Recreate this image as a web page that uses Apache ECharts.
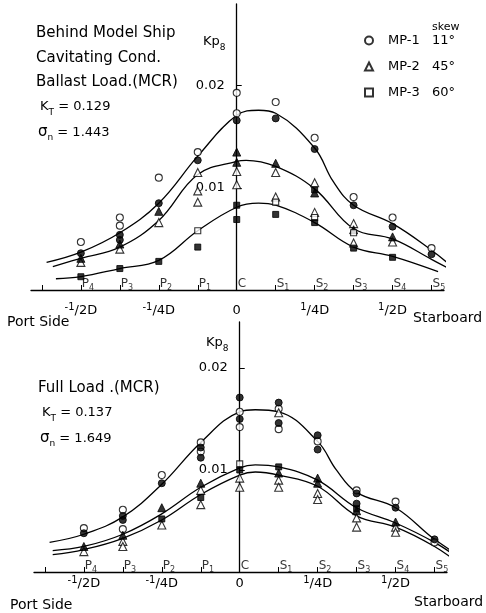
<!DOCTYPE html>
<html>
<head>
<meta charset="utf-8">
<script src="https://cdn.jsdelivr.net/npm/echarts@6/dist/echarts.min.js"></script>
<style>
  html, body { margin: 0; padding: 0; background: #fff; }
  #chart { width: 486px; height: 613px; }
</style>
</head>
<body>
<div id="chart"></div>
<script>
// Blade stations along the propeller plane (fractions of diameter D)
const stationNames = ['P4', 'P3', 'P2', 'P1', 'C', 'S1', 'S2', 'S3', 'S4', 'S5'];
const stationX = [-0.5, -0.375, -0.25, -0.125, 0, 0.125, 0.25, 0.375, 0.5, 0.625];
const tickX = [-0.625, -0.5, -0.375, -0.25, -0.125, 0, 0.125, 0.25, 0.375, 0.5, 0.625];
const distValues = [-0.5, -0.25, 0, 0.25, 0.5];
const distLabels = ['-1/2D', '-1/4D', '0', '1/4D', '1/2D'];
const kpTicks = [0.01, 0.02];

const propellers = ['MP-1', 'MP-2', 'MP-3'];
const skewAngles = ['11°', '45°', '60°'];

// Condition notes
const ballastNotes = ['Behind Model Ship', 'Cavitating Cond.', 'Ballast Load.(MCR)'];
const ballastKT = '0.129';
const ballastSigma = '1.443';
const fullNotes = ['Full Load .(MCR)'];
const fullKT = '0.137';
const fullSigma = '1.649';

// Ballast load – measured Kp8 per station
const ballastMP1Open = [['P4',0.0047],['P3',0.0071],['P3',0.0063],['P2',0.0110],['P1',0.0135],['C',0.0193],['C',0.0173],['S1',0.0184],['S2',0.0149],['S3',0.0091],['S4',0.0071],['S5',0.0041]];
const ballastMP1Filled = [['P4',0.0036],['P3',0.0054],['P3',0.0049],['P2',0.0085],['P1',0.0127],['C',0.0166],['S1',0.0168],['S2',0.0138],['S3',0.0083],['S4',0.0062],['S5',0.0035]];
const ballastMP2Open = [['P4',0.0027],['P3',0.0040],['P2',0.0066],['P1',0.0115],['P1',0.0097],['P1',0.0086],['C',0.0116],['C',0.0103],['S1',0.0115],['S1',0.0091],['S2',0.0105],['S2',0.0076],['S3',0.0065],['S3',0.0046],['S4',0.0047]];
const ballastMP2Filled = [['P4',0.0031],['P3',0.0045],['P2',0.0077],['C',0.0135],['C',0.0125],['S1',0.0124],['S2',0.0095],['S3',0.0059],['S4',0.0052]];
const ballastMP3Open = [['P1',0.0058],['S1',0.0086],['S2',0.0071],['S3',0.0056]];
const ballastMP3Filled = [['P4',0.0013],['P3',0.0021],['P2',0.0028],['P1',0.0042],['C',0.0083],['C',0.0069],['S1',0.0074],['S2',0.0098],['S2',0.0066],['S3',0.0041],['S4',0.0032]];

// Ballast load – faired curves
const ballastCurveMP1 = [[-0.61,0.0027],[-0.5,0.0037],[-0.375,0.0056],[-0.25,0.0085],[-0.125,0.0131],[0,0.0171],[0.07,0.0176],[0.125,0.0173],[0.25,0.0139],[0.31,0.0106],[0.375,0.0083],[0.5,0.0065],[0.625,0.0039],[0.694,0.0022]];
const ballastCurveMP2 = [[-0.59,0.0023],[-0.5,0.0031],[-0.375,0.0042],[-0.25,0.0068],[-0.125,0.0113],[0,0.0126],[0.03,0.0127],[0.125,0.0121],[0.25,0.0099],[0.375,0.0060],[0.5,0.0050],[0.625,0.0030],[0.68,0.0021]];
const ballastCurveMP3 = [[-0.58,0.0011],[-0.5,0.0013],[-0.375,0.0021],[-0.25,0.0029],[-0.125,0.0058],[0,0.0081],[0.07,0.0085],[0.125,0.0083],[0.25,0.0066],[0.375,0.0042],[0.5,0.0033],[0.646,0.0018]];

// Full load – measured Kp8 per station
const fullMP1Open = [['P4',0.0043],['P3',0.0061],['P3',0.0042],['P2',0.0095],['P1',0.0127],['P1',0.0118],['C',0.0157],['C',0.0142],['S1',0.0160],['S1',0.0140],['S2',0.0128],['S3',0.0080],['S4',0.0069],['S5',0.0029]];
const fullMP1Filled = [['P4',0.0038],['P3',0.0055],['P3',0.0051],['P2',0.0087],['P1',0.0122],['P1',0.0112],['C',0.0171],['C',0.0150],['S1',0.0166],['S1',0.0146],['S2',0.0134],['S2',0.0120],['S3',0.0077],['S3',0.0067],['S4',0.0063],['S5',0.0032]];
const fullMP2Open = [['P4',0.0020],['P3',0.0030],['P3',0.0025],['P2',0.0046],['P1',0.0080],['P1',0.0066],['C',0.0092],['C',0.0083],['S1',0.0156],['S1',0.0090],['S1',0.0083],['S2',0.0077],['S2',0.0071],['S3',0.0053],['S3',0.0044],['S4',0.0044],['S4',0.0039]];
const fullMP2Filled = [['P4',0.0025],['P3',0.0036],['P2',0.0063],['P1',0.0087],['S1',0.0097],['S2',0.0092],['S2',0.0087],['S3',0.0060],['S4',0.0049]];
const fullMP3Open = [['C',0.0106]];
const fullMP3Filled = [['P2',0.0052],['P1',0.0073],['C',0.0100],['S1',0.0103],['S3',0.0062]];

// Full load – faired curves
const fullCurveMP1 = [[-0.61,0.0029],[-0.5,0.0037],[-0.375,0.0054],[-0.25,0.0086],[-0.125,0.0127],[0,0.0157],[0.05,0.0159],[0.125,0.0157],[0.25,0.0128],[0.31,0.0100],[0.375,0.0078],[0.5,0.0063],[0.625,0.0032],[0.717,0.0014]];
const fullCurveMP2 = [[-0.6,0.0021],[-0.5,0.0025],[-0.375,0.0037],[-0.25,0.0057],[-0.125,0.0083],[0,0.0102],[0.05,0.0105],[0.125,0.0103],[0.25,0.0090],[0.375,0.0063],[0.5,0.0048],[0.625,0.0029],[0.71,0.0012]];
const fullCurveMP3 = [[-0.6,0.0017],[-0.5,0.0022],[-0.375,0.0033],[-0.25,0.0051],[-0.125,0.0076],[0,0.0095],[0.05,0.0098],[0.125,0.0095],[0.25,0.0084],[0.375,0.0055],[0.5,0.0044],[0.625,0.0025],[0.704,0.0008]];

const FONT = 'DejaVu Sans';
const INK = '#000';
const X_MIN = -0.66;
const X_MAX = 0.665;
const GRID_W = 413;
// shift the Kp8 axis from the grid's left edge onto x = 0
const Y_SHIFT = -GRID_W * (0 - X_MIN) / (X_MAX - X_MIN);

function toPoints(list) {
  return list.map(([s, v]) => [stationX[stationNames.indexOf(s)], v]);
}

function markers(name, list, grid, shape, filled) {
  const size = shape === 'triangle' ? 8 : (shape === 'rect' ? 6 : 7);
  return {
    type: 'scatter', name, xAxisIndex: grid, yAxisIndex: grid,
    data: toPoints(list), symbol: shape, symbolSize: size, z: 4, silent: true,
    itemStyle: filled ? { color: INK, borderColor: INK, borderWidth: 1 }
                      : { color: '#fff', borderColor: INK, borderWidth: 1.1 }
  };
}

function curve(data, grid) {
  return {
    type: 'line', xAxisIndex: grid, yAxisIndex: grid, data, symbol: 'none',
    smooth: 0.4, clip: false, silent: true, z: 3,
    lineStyle: { color: INK, width: 1.3 }
  };
}

function stationLabels(grid) {
  return {
    type: 'scatter', xAxisIndex: grid, yAxisIndex: grid, silent: true, z: 5,
    data: stationX.map(x => [x, 0]), symbolSize: 0,
    label: {
      show: true, position: 'right', distance: 1, offset: [0, -6],
      formatter: p => {
        const n = stationNames[p.dataIndex];
        return n.length > 1 ? `{m|${n[0]}}{s|${n.slice(1)}}` : `{m|${n}}`;
      },
      rich: {
        m: { fontFamily: FONT, fontSize: 12, color: INK, lineHeight: 16, verticalAlign: 'middle' },
        s: { fontFamily: FONT, fontSize: 8, color: INK, lineHeight: 16, verticalAlign: 'bottom' }
      }
    }
  };
}

function distFormatter(v) {
  const t = distLabels[distValues.indexOf(Math.round(v * 1000) / 1000)];
  if (!t) return '';
  if (t.indexOf('/') < 0) return `{n|${t}}`;
  const [num, den] = t.split('/');
  return `{u|${num}}{n|/${den}}`;
}

function xAxis(grid, margin) {
  return {
    gridIndex: grid, type: 'value', min: X_MIN, max: X_MAX,
    axisLine: { show: true, onZero: true, lineStyle: { color: INK, width: 1.3 } },
    axisTick: { show: true, inside: true, length: 5, customValues: tickX, lineStyle: { color: INK, width: 1 } },
    axisLabel: {
      show: true, customValues: distValues, margin, formatter: distFormatter,
      rich: {
        n: { fontFamily: FONT, fontSize: 13, color: INK, lineHeight: 15, verticalAlign: 'bottom' },
        u: { fontFamily: FONT, fontSize: 10, color: INK, lineHeight: 15, verticalAlign: 'top' }
      }
    },
    splitLine: { show: false }
  };
}

function yAxis(grid, max, margin) {
  return {
    gridIndex: grid, type: 'value', min: 0, max, offset: Y_SHIFT,
    axisLine: { show: true, onZero: false, lineStyle: { color: INK, width: 1.3 } },
    axisTick: { show: true, inside: true, length: 5, customValues: kpTicks, lineStyle: { color: INK, width: 1 } },
    axisLabel: {
      show: true, customValues: kpTicks, margin, color: INK, fontFamily: FONT, fontSize: 13,
      formatter: v => v.toFixed(2)
    },
    splitLine: { show: false }
  };
}

function text(x, y, str, size) {
  return {
    type: 'text', x, y, silent: true,
    style: {
      text: str, fill: INK, fontFamily: FONT, fontSize: size,
      verticalAlign: 'middle', textVerticalAlign: 'middle',
      rich: {
        n: { fontFamily: FONT, fontSize: size, fill: INK, color: INK, lineHeight: 20, verticalAlign: 'middle' },
        g: { fontFamily: FONT, fontSize: size + 2, fill: INK, color: INK, lineHeight: 20, verticalAlign: 'middle' },
        s: { fontFamily: FONT, fontSize: Math.round(size * 0.7), fill: INK, color: INK, lineHeight: 20, verticalAlign: 'bottom' }
      }
    }
  };
}

function conditionBlock(x, y0, notes, kt, sigma) {
  const items = [];
  let y = y0;
  notes.forEach(n => { items.push(text(x, y, n, 15)); y += 24.7; });
  items.push(text(x + 4, y, `{n|K}{s|T}{n| = ${kt}}`, 13));
  y += 25.5;
  items.push(text(x + 2, y, `{g|σ}{s|n}{n| = ${sigma}}`, 13));
  return items;
}

const legendSkew = {};
propellers.forEach((p, i) => { legendSkew[p] = skewAngles[i]; });

const chart = echarts.init(document.getElementById('chart'), null, { renderer: 'canvas' });

const option = {
  backgroundColor: '#fff',
  animation: false,
  textStyle: { fontFamily: FONT, color: INK },
  grid: [
    { left: 31, top: 4, width: GRID_W, height: 286, outerBoundsMode: 'none' },
    { left: 34, top: 322, width: GRID_W, height: 250, outerBoundsMode: 'none' }
  ],
  xAxis: [xAxis(0, 12), xAxis(1, 3)],
  yAxis: [yAxis(0, 0.028, 12), yAxis(1, 0.0245, 12)],
  legend: {
    data: propellers, orient: 'vertical', left: 359, top: 29,
    itemWidth: 8, itemHeight: 8, itemGap: 13, selectedMode: false,
    formatter: name => `{n|${name}}{d|${legendSkew[name]}}`,
    textStyle: {
      fontFamily: FONT, fontSize: 13, color: INK,
      rich: {
        n: { fontFamily: FONT, fontSize: 13, color: INK, width: 44, padding: [0, 0, 0, 10], lineHeight: 14 },
        d: { fontFamily: FONT, fontSize: 13, color: INK, lineHeight: 14 }
      }
    }
  },
  series: [
    curve(ballastCurveMP1, 0), curve(ballastCurveMP2, 0), curve(ballastCurveMP3, 0),
    markers('MP-1', ballastMP1Open, 0, 'circle', false),
    markers('MP-1 filled', ballastMP1Filled, 0, 'circle', true),
    markers('MP-2', ballastMP2Open, 0, 'triangle', false),
    markers('MP-2 filled', ballastMP2Filled, 0, 'triangle', true),
    markers('MP-3', ballastMP3Open, 0, 'rect', false),
    markers('MP-3 filled', ballastMP3Filled, 0, 'rect', true),
    stationLabels(0),
    curve(fullCurveMP1, 1), curve(fullCurveMP2, 1), curve(fullCurveMP3, 1),
    markers('MP-1', fullMP1Open, 1, 'circle', false),
    markers('MP-1 filled', fullMP1Filled, 1, 'circle', true),
    markers('MP-2', fullMP2Open, 1, 'triangle', false),
    markers('MP-2 filled', fullMP2Filled, 1, 'triangle', true),
    markers('MP-3', fullMP3Open, 1, 'rect', false),
    markers('MP-3 filled', fullMP3Filled, 1, 'rect', true),
    stationLabels(1)
  ],
  graphic: [
    ...conditionBlock(36, 33, ballastNotes, ballastKT, ballastSigma),
    ...conditionBlock(38, 388, fullNotes, fullKT, fullSigma),
    text(203, 42, '{n|Kp}{s|8}', 13),
    text(206, 343, '{n|Kp}{s|8}', 13),
    text(432, 27, 'skew', 11),
    text(7, 322, 'Port Side', 14),
    text(413, 318, 'Starboard', 14),
    text(10, 605, 'Port Side', 14),
    text(414, 602, 'Starboard', 14)
  ]
};

chart.setOption(option);
</script>
</body>
</html>
